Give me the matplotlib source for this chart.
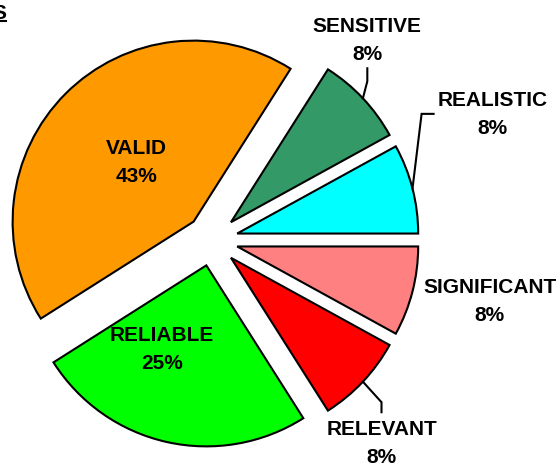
import numpy as np
import matplotlib.pyplot as plt

categories = ['VALID', 'SENSITIVE', 'REALISTIC', 'SIGNIFICANT', 'RELEVANT', 'RELIABLE']
percent = [43, 8, 8, 8, 8, 25]
colors = ['#FF9900', '#339966', '#00FFFF', '#FF8080', '#FF0000', '#00FF00']

# label layout: angle (deg), distance in radii, side of the leader line
label_layout = {
    'VALID': (134, 0.60, None),
    'SENSITIVE': (52.2, 1.40, 'below'),
    'REALISTIC': (24.2, 1.70, 'left'),
    'SIGNIFICANT': (-12.2, 1.57, None),
    'RELEVANT': (-50.1, 1.46, 'above'),
    'RELIABLE': (-114.8, 0.66, None),
}

W, H = 560, 464
plt.rcParams['font.family'] = ['Liberation Sans', 'DejaVu Sans']

fig = plt.figure(figsize=(W / 100, H / 100), dpi=100)
ax = fig.add_axes([0, 0, 1, 1])

cx, cy, R = 212, 223, 181
expl = 26  # pie explode is absolute, here in pixels
# boundary between REALISTIC and SIGNIFICANT sits on the horizontal
start = 360 * sum(percent[:3]) / sum(percent)

wedges, _ = ax.pie(percent, colors=colors, startangle=start, counterclock=False,
                   explode=[expl] * len(percent), radius=R, center=(cx, cy),
                   wedgeprops=dict(edgecolor='black', linewidth=1.5))
ax.set_xlim(0, W)
ax.set_ylim(0, H)
ax.axis('off')

texts = []
for name, p in zip(categories, percent):
    ang, dist, side = label_layout[name]
    a = np.radians(ang)
    t = ax.text(cx + dist * R * np.cos(a), cy + dist * R * np.sin(a),
                f'{name}\n{p}%', ha='center', va='center', fontsize=15,
                fontweight='bold', linespacing=1.6)
    texts.append(t)

fig.canvas.draw()
inv = ax.transData.inverted()
for w, name, t in zip(wedges, categories, texts):
    side = label_layout[name][2]
    if side is None:
        continue
    bb = t.get_window_extent().transformed(inv)
    tm = np.radians((w.theta1 + w.theta2) / 2)
    x0 = w.center[0] + w.r * np.cos(tm)
    y0 = w.center[1] + w.r * np.sin(tm)
    mx = (bb.x0 + bb.x1) / 2
    my = (bb.y0 + bb.y1) / 2
    if side == 'below':
        end = (mx, bb.y0 - 5)
        elbow = (mx, end[1] - 13)
    elif side == 'above':
        end = (mx, bb.y1 + 7)
        elbow = (mx, end[1] + 10)
    else:
        end = (bb.x0 - 4, my)
        elbow = (end[0] - 12, my)
    ax.plot([x0, elbow[0], end[0]], [y0, elbow[1], end[1]], color='black',
            lw=1.5, solid_joinstyle='miter')

# clipped title fragment at the top left
fig.text(6 / W, 1 - 4 / H, 'S', ha='right', va='top', fontsize=15, fontweight='bold')
ax.plot([0, 6], [H - 22, H - 22], color='black', lw=1.5, clip_on=False)

fig.savefig('out.png', dpi=100)
